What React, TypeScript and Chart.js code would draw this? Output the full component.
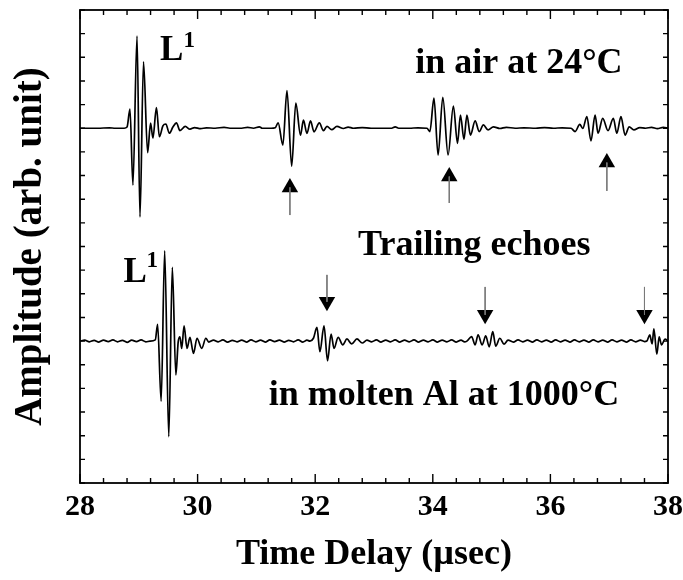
import React, { useEffect, useRef } from 'react';
import { Chart, registerables } from 'chart.js';

Chart.register(...registerables);

// ---- Data (time in µs, amplitude in arbitrary units) ----
const airTime = [
  28.0, 28.3, 28.5, 28.6, 28.75, 28.8, 28.85, 28.9, 28.97, 29.02, 29.08, 29.15, 29.2, 29.24, 29.3, 29.35,
  29.41, 29.46, 29.52, 29.58, 29.64, 29.7, 29.79, 29.87, 29.95, 30.05, 30.15, 30.3, 30.45, 30.55, 30.75,
  30.85, 30.95, 31.05, 31.1, 31.25, 31.32, 31.37, 31.45, 31.52, 31.6, 31.67, 31.75, 31.8, 31.86, 31.92,
  31.98, 32.07, 32.14, 32.2, 32.28, 32.37, 32.48, 32.56, 32.65, 32.8, 32.95, 33.1, 33.3, 33.36, 33.42,
  33.6, 33.75, 33.9, 33.95, 34.02, 34.09, 34.17, 34.26, 34.35, 34.42, 34.47, 34.53, 34.58, 34.64, 34.72,
  34.79, 34.86, 34.94, 35.03, 35.14, 35.25, 35.4, 35.55, 35.75, 35.9, 36.05, 36.2, 36.35, 36.42, 36.5,
  36.55, 36.62, 36.69, 36.76, 36.81, 36.89, 36.98, 37.07, 37.13, 37.2, 37.27, 37.34, 37.42, 37.52, 37.62,
  37.72, 37.82, 37.92, 38.0,
];
const airAmp = [
  15.0, 15.0, 15.02, 15.0, 15.0, 15.05, 15.81, 12.6, 18.9, 11.25, 17.81, 13.97, 15.22, 14.59, 15.87, 14.64,
  15.1, 15.18, 14.79, 15.05, 15.23, 14.9, 15.08, 14.96, 15.03, 14.98, 15.02, 15.0, 15.04, 15.0, 15.0,
  15.04, 15.0, 15.06, 15.0, 15.0, 15.02, 15.23, 14.29, 16.59, 13.4, 16.06, 14.71, 15.34, 14.78, 15.31,
  14.85, 15.23, 14.9, 15.08, 14.94, 15.08, 14.99, 15.05, 15.0, 15.03, 15.0, 15.0, 15.0, 15.06, 15.0,
  15.0, 15.02, 15.0, 14.86, 16.27, 13.87, 16.31, 13.87, 15.94, 14.36, 15.56, 14.53, 15.56, 14.71, 15.31,
  14.86, 15.14, 14.93, 15.06, 14.99, 15.04, 15.0, 15.02, 15.0, 15.03, 15.0, 15.02, 15.0, 14.86, 15.16,
  14.99, 15.49, 14.47, 15.56, 14.79, 15.42, 14.9, 15.42, 14.79, 15.49, 14.71, 15.06, 14.93, 15.03, 15.0,
  15.04, 14.98, 15.04, 15.0,
];

const moltenTime = [
  28.0, 28.08, 28.16, 28.24, 28.32, 28.4, 28.48, 28.56, 28.64, 28.72, 28.8, 28.88, 28.96, 29.04, 29.12,
  29.19, 29.28, 29.32, 29.38, 29.44, 29.51, 29.57, 29.63, 29.67, 29.7, 29.73, 29.77, 29.82, 29.87, 29.93,
  29.99, 30.07, 30.14, 30.19, 30.27, 30.35, 30.43, 30.51, 30.59, 30.67, 30.75, 30.83, 30.91, 30.99, 31.07,
  31.15, 31.23, 31.31, 31.39, 31.47, 31.55, 31.63, 31.71, 31.79, 31.86, 31.91, 31.97, 32.03, 32.08, 32.15,
  32.21, 32.27, 32.32, 32.39, 32.47, 32.54, 32.62, 32.71, 32.8, 32.88, 32.96, 33.04, 33.12, 33.2, 33.28,
  33.36, 33.44, 33.52, 33.6, 33.68, 33.76, 33.84, 33.92, 34.0, 34.08, 34.16, 34.24, 34.32, 34.4, 34.48,
  34.54, 34.58, 34.66, 34.72, 34.77, 34.84, 34.9, 34.96, 35.02, 35.07, 35.14, 35.21, 35.28, 35.37, 35.45,
  35.53, 35.61, 35.69, 35.77, 35.85, 35.93, 36.01, 36.09, 36.17, 36.25, 36.33, 36.41, 36.49, 36.57, 36.65,
  36.73, 36.81, 36.89, 36.97, 37.05, 37.13, 37.21, 37.29, 37.37, 37.45, 37.53, 37.6, 37.64, 37.69, 37.73,
  37.76, 37.81, 37.85, 37.89, 37.95, 38.0,
];
const moltenAmp = [
  6.0, 6.04, 5.97, 6.03, 5.96, 6.04, 5.98, 6.05, 5.97, 6.03, 5.95, 6.04, 5.98, 6.05, 5.97,
  6.0, 6.05, 6.71, 3.46, 9.82, 1.96, 9.12, 4.57, 5.97, 6.18, 5.69, 6.64, 5.69, 6.16, 5.48,
  6.12, 5.69, 6.12, 5.96, 6.04, 5.97, 6.05, 5.96, 6.03, 5.97, 6.04, 5.96, 6.05, 5.97, 6.04,
  5.96, 6.05, 5.98, 6.04, 5.96, 6.03, 5.97, 6.05, 5.96, 6.04, 6.0, 6.12, 6.58, 5.55, 6.64,
  5.17, 6.3, 5.69, 6.16, 5.84, 6.09, 5.88, 6.09, 5.92, 6.04, 5.97, 6.05, 5.96, 6.04, 5.97,
  6.05, 5.96, 6.04, 5.97, 6.05, 5.96, 6.04, 5.97, 6.05, 5.96, 6.04, 5.97, 6.05, 5.96, 6.04,
  5.97, 6.0, 6.19, 5.84, 6.26, 5.84, 6.22, 5.76, 6.4, 5.79, 6.12, 5.87, 6.04, 5.96, 6.05,
  5.97, 6.04, 5.96, 6.05, 5.97, 6.04, 5.96, 6.05, 5.97, 6.04, 5.96, 6.05, 5.97, 6.04, 5.96,
  6.05, 5.97, 6.04, 5.96, 6.05, 5.97, 6.04, 5.96, 6.05, 5.97, 6.04, 5.98, 6.0, 6.26, 5.88,
  6.52, 5.45, 6.18, 5.84, 6.08, 6.0,
];

// Echo markers
const upArrowTime = [31.57, 34.28, 36.96];
const upArrowHead = [12.5, 12.96, 13.55];
const upArrowTail = [11.33, 11.84, 12.35];
const downArrowTime = [32.2, 34.89, 37.6];
const downArrowHead = [7.66, 7.11, 7.11];
const downArrowTail = [8.8, 8.29, 8.29];

// Axis range / ticks
const xMin = 28;
const xMax = 38;
const xStep = 0.4;
const yMin = 0;
const yMax = 20;
const yStep = 1;

const xTitle = 'Time Delay (\u00b5sec)';
const yTitle = 'Amplitude (arb. unit)';

const SERIF = '"Liberation Serif", "Times New Roman", Times, serif';

const isMajor = (v: number) => Math.abs(v / 2 - Math.round(v / 2)) < 1e-6;

const framePlugin = {
  id: 'frameTicks',
  afterDraw(chart: any) {
    const { ctx, chartArea } = chart;
    const { left, right, top, bottom } = chartArea;
    const xs = chart.scales.x;
    const ys = chart.scales.y;
    ctx.save();
    ctx.strokeStyle = '#000';
    ctx.lineWidth = 1.8;
    ctx.strokeRect(left, top, right - left, bottom - top);
    ctx.lineWidth = 1.4;
    ctx.beginPath();
    xs.ticks.forEach((t: any) => {
      const px = xs.getPixelForValue(t.value);
      const len = isMajor(t.value) ? 9 : 5;
      ctx.moveTo(px, bottom);
      ctx.lineTo(px, bottom - len);
      ctx.moveTo(px, top);
      ctx.lineTo(px, top + len);
    });
    ys.ticks.forEach((t: any) => {
      const py = ys.getPixelForValue(t.value);
      ctx.moveTo(left, py);
      ctx.lineTo(left + 5, py);
      ctx.moveTo(right, py);
      ctx.lineTo(right - 5, py);
    });
    ctx.stroke();
    ctx.restore();
  },
};

type Note = { text: string; x: number; y: number; size: number };
const notes: Note[] = [
  { text: 'L', x: 29.36, y: 17.89, size: 35 },
  { text: '1', x: 29.76, y: 18.44, size: 23 },
  { text: 'L', x: 28.74, y: 8.5, size: 35 },
  { text: '1', x: 29.13, y: 9.13, size: 23 },
  { text: 'in air at 24\u00b0C', x: 33.7, y: 17.35, size: 36 },
  { text: 'Trailing echoes', x: 32.73, y: 9.64, size: 36 },
  { text: 'in molten Al at 1000\u00b0C', x: 31.21, y: 3.3, size: 36 },
];

const notesPlugin = {
  id: 'notes',
  afterDatasetsDraw(chart: any) {
    const { ctx } = chart;
    const xs = chart.scales.x;
    const ys = chart.scales.y;
    ctx.save();
    ctx.fillStyle = '#000';
    ctx.textAlign = 'left';
    ctx.textBaseline = 'alphabetic';
    notes.forEach((n) => {
      ctx.font = `bold ${n.size}px ${SERIF}`;
      ctx.fillText(n.text, xs.getPixelForValue(n.x), ys.getPixelForValue(n.y));
    });
    ctx.restore();
  },
};

export default function App() {
  const ref = useRef<HTMLCanvasElement | null>(null);

  useEffect(() => {
    if (!ref.current) return;
    const trace = (xs: number[], ys: number[]) => xs.map((x, i) => ({ x, y: ys[i] }));
    const lineStyle = {
      borderColor: '#000',
      borderWidth: 1.7,
      pointRadius: 0,
      cubicInterpolationMode: 'monotone' as const,
      tension: 0.4,
      fill: false,
    };
    const stems = [
      ...upArrowTime.map((x, i) => ({
        data: [{ x, y: upArrowHead[i] }, { x, y: upArrowTail[i] }],
        borderColor: '#7a7a7a',
        borderWidth: 1,
        pointRadius: 0,
      })),
      ...downArrowTime.map((x, i) => ({
        data: [{ x, y: downArrowTail[i] }, { x, y: downArrowHead[i] }],
        borderColor: '#7a7a7a',
        borderWidth: 1,
        pointRadius: 0,
      })),
    ];
    const head = {
      showLine: false,
      pointStyle: 'triangle',
      pointRadius: 9.5,
      pointBackgroundColor: '#000',
      pointBorderColor: '#000',
      pointBorderWidth: 0,
    };
    const chart = new Chart(ref.current, {
      type: 'line',
      data: {
        datasets: [
          { label: 'in air at 24°C', data: trace(airTime, airAmp), ...lineStyle },
          { label: 'in molten Al at 1000°C', data: trace(moltenTime, moltenAmp), ...lineStyle },
          ...stems,
          { label: 'up', data: trace(upArrowTime, upArrowHead), ...head, pointRotation: 0 },
          { label: 'down', data: trace(downArrowTime, downArrowHead), ...head, pointRotation: 180 },
        ] as any,
      },
      options: {
        animation: false,
        responsive: false,
        devicePixelRatio: 1,
        events: [],
        layout: { padding: { left: 0, right: 15, top: 10, bottom: 0 } },
        plugins: { legend: { display: false }, tooltip: { enabled: false } },
        scales: {
          x: {
            type: 'linear',
            min: xMin,
            max: xMax,
            grid: { display: false, drawTicks: false },
            border: { display: false },
            ticks: {
              stepSize: xStep,
              autoSkip: false,
              maxRotation: 0,
              padding: 6,
              color: '#000',
              font: { family: SERIF, size: 30, weight: 'bold' },
              callback: (v: any) => (isMajor(Number(v)) ? String(Math.round(Number(v))) : ''),
            },
            title: {
              display: true,
              text: xTitle,
              color: '#000',
              font: { family: SERIF, size: 36, weight: 'bold' },
              padding: { top: 0, bottom: 4 },
            },
            afterFit: (s: any) => {
              s.height = 97;
              s.paddingLeft = 0;
              s.paddingRight = 0;
            },
          },
          y: {
            type: 'linear',
            min: yMin,
            max: yMax,
            grid: { display: false, drawTicks: false },
            border: { display: false },
            ticks: { stepSize: yStep, display: false },
            title: {
              display: true,
              text: yTitle,
              color: '#000',
              font: { family: SERIF, size: 39, weight: 'bold' },
              padding: { top: 8, bottom: 0 },
            },
            afterFit: (s: any) => {
              s.width = 80;
            },
          },
        },
      } as any,
      plugins: [framePlugin, notesPlugin],
    });
    return () => chart.destroy();
  }, []);

  return (
    <div style={{ position: 'fixed', left: 0, top: 0, width: 683, height: 580, background: '#fff' }}>
      <canvas ref={ref} width={683} height={580} style={{ display: 'block' }} />
    </div>
  );
}
